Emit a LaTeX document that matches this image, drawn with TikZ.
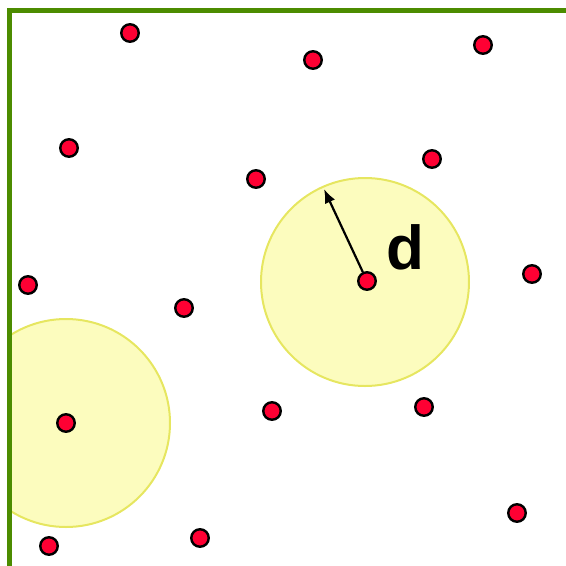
\documentclass[tikz,border=0pt]{standalone}
\usepackage{fontspec}
\setmainfont{Liberation Sans}
\definecolor{border}{HTML}{4C8C00}
\definecolor{zonefill}{HTML}{FCFCBE}
\definecolor{zoneline}{HTML}{E6E660}
\definecolor{dotred}{HTML}{FF0033}
\usetikzlibrary{arrows.meta}

\begin{document}
\begin{tikzpicture}[
  x=1pt,y=-1pt,
  dot/.style={circle,draw=black,line width=2.4pt,fill=dotred,minimum size=17.5pt,inner sep=0pt},
  zone/.style={circle,draw=zoneline,line width=2pt,fill=zonefill,minimum size=208pt,inner sep=0pt},
  radius arrow/.style={-{Latex[length=14pt,width=11pt]},line width=2.2pt}
]
  \useasboundingbox (0,0) rectangle (566,566);

  % coverage zones, cut off at the field border
  \begin{scope}
    \clip (9.5,10) rectangle (566,566);
    \node[zone] (zoneA) at (365,282) {};
    \node[zone] (zoneB) at (66,423) {};
  \end{scope}

  % field border
  \draw[border,line width=5pt] (9.5,580) -- (9.5,10) -- (568,10) -- (568,580);

  % sensors
  \node[dot] (p1) at (130,33) {};
  \node[dot] (p2) at (313,60) {};
  \node[dot] (p3) at (483,45) {};
  \node[dot] (p4) at (69,148) {};
  \node[dot] (p5) at (256,179) {};
  \node[dot] (p6) at (432,159) {};
  \node[dot] (p7) at (28,285) {};
  \node[dot] (p8) at (184,308) {};
  \node[dot] (p9) at (367,281) {};
  \node[dot] (p10) at (532,274) {};
  \node[dot] (p11) at (66,423) {};
  \node[dot] (p12) at (272,411) {};
  \node[dot] (p13) at (424,407) {};
  \node[dot] (p14) at (517,513) {};
  \node[dot] (p15) at (49,546) {};
  \node[dot] (p16) at (200,538) {};

  % radius
  \coordinate (dtip) at (324,189);
  \draw[radius arrow] (p9) -- (dtip);
  \node[font=\fontsize{62}{62}\selectfont\bfseries] (dlabel) at (405,247) {d};
\end{tikzpicture}
\end{document}
